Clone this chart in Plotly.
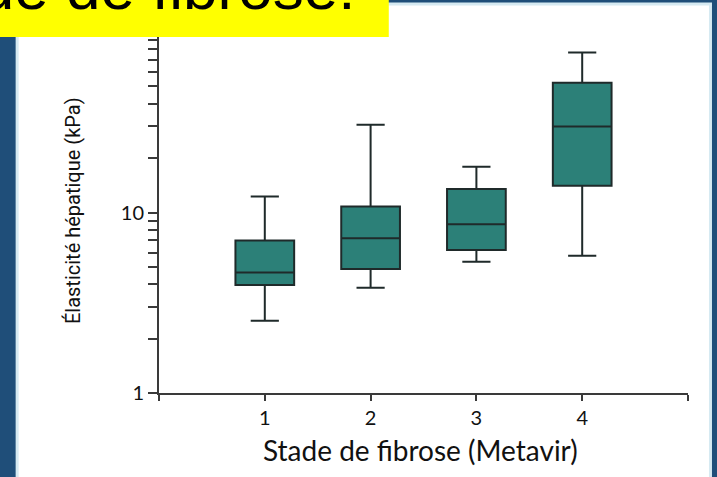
import plotly.graph_objects as go

# Data (kPa, log scale)
stages = [1, 2, 3, 4]
lower_whisker = [2.51, 3.83, 5.33, 5.76]
q1_values = [3.96, 4.86, 6.2, 14.06]
median_values = [4.65, 7.21, 8.6, 30.0]
q3_values = [7.0, 10.8, 13.5, 52.4]
upper_whisker = [12.27, 30.6, 17.9, 77.0]

x_tickvals = [0, 1, 2, 3, 4, 5]
x_ticktext = ["", "1", "2", "3", "4", ""]
y_tickvals = [1, 2, 3, 4, 5, 6, 7, 8, 9, 10, 20, 30, 40, 50, 60, 70, 80, 90, 100]
y_ticktext = ["1", "", "", "", "", "", "", "", "", "10", "", "", "", "", "", "", "", "", ""]

title_text = "stade de fibrose:"
x_title = "Stade de fibrose (Metavir)"
y_title = "Élasticité hépatique (kPa)"

W, H = 717, 477
L, R, T, B = 159, 28.5, 32, 84
PW, PH = W - L - R, H - T - B


def px_x(px):
    return (px - L) / PW


def px_y(py):
    return (H - B - py) / PH


fig = go.Figure()
fig.add_trace(go.Box(
    x=stages,
    q1=q1_values,
    median=median_values,
    q3=q3_values,
    lowerfence=lower_whisker,
    upperfence=upper_whisker,
    width=0.555,
    whiskerwidth=0.48,
    fillcolor="#2C8078",
    line=dict(color="#1F2A2A", width=2),
    boxpoints=False,
    hoverinfo="skip",
    showlegend=False,
))

axis_color = "#3a3a3a"
fig.update_layout(
    width=W, height=H,
    margin=dict(l=L, r=R, t=T, b=B),
    paper_bgcolor="#1F4E79",
    plot_bgcolor="white",
    xaxis=dict(
        range=[0, 5], tickvals=x_tickvals, ticktext=x_ticktext,
        ticks="outside", ticklen=6, tickwidth=1.5, tickcolor=axis_color,
        showline=True, linecolor=axis_color, linewidth=2,
        showgrid=False, zeroline=False,
        tickfont=dict(family="Lato, Open Sans, sans-serif", size=20, color="#111"),
    ),
    yaxis=dict(
        type="log", range=[0, 2], tickvals=y_tickvals, ticktext=y_ticktext,
        ticks="outside", ticklen=9, tickwidth=1.5, tickcolor=axis_color,
        showline=True, linecolor=axis_color, linewidth=2,
        showgrid=False, zeroline=False,
        tickfont=dict(family="Lato, Open Sans, sans-serif", size=20, color="#111"),
    ),
    shapes=[
        dict(type="rect", xref="paper", yref="paper", layer="below",
             x0=px_x(17), x1=px_x(711), y0=px_y(4), y1=px_y(480),
             fillcolor="white", line=dict(color="#D6EAF2", width=3)),
        dict(type="rect", xref="paper", yref="paper", layer="above",
             x0=px_x(-5), x1=px_x(389), y0=px_y(37), y1=px_y(-5),
             fillcolor="#FFFF00", line=dict(width=0)),
    ],
    annotations=[
        dict(text=title_text, xref="paper", yref="paper",
             x=px_x(357), y=px_y(24), xanchor="right", yanchor="bottom",
             showarrow=False,
             font=dict(family="Liberation Sans, Arial, sans-serif", size=62, color="black")),
        dict(text=x_title, xref="paper", yref="paper",
             x=px_x(421), y=px_y(450), xanchor="center", yanchor="middle",
             showarrow=False,
             font=dict(family="Lato, Open Sans, sans-serif", size=28, color="#111")),
        dict(text=y_title, xref="paper", yref="paper",
             x=px_x(73), y=px_y(211), xanchor="center", yanchor="middle",
             textangle=-90, showarrow=False,
             font=dict(family="Roboto, sans-serif", size=20, color="#111")),
    ],
)

fig.write_html("out.html")
